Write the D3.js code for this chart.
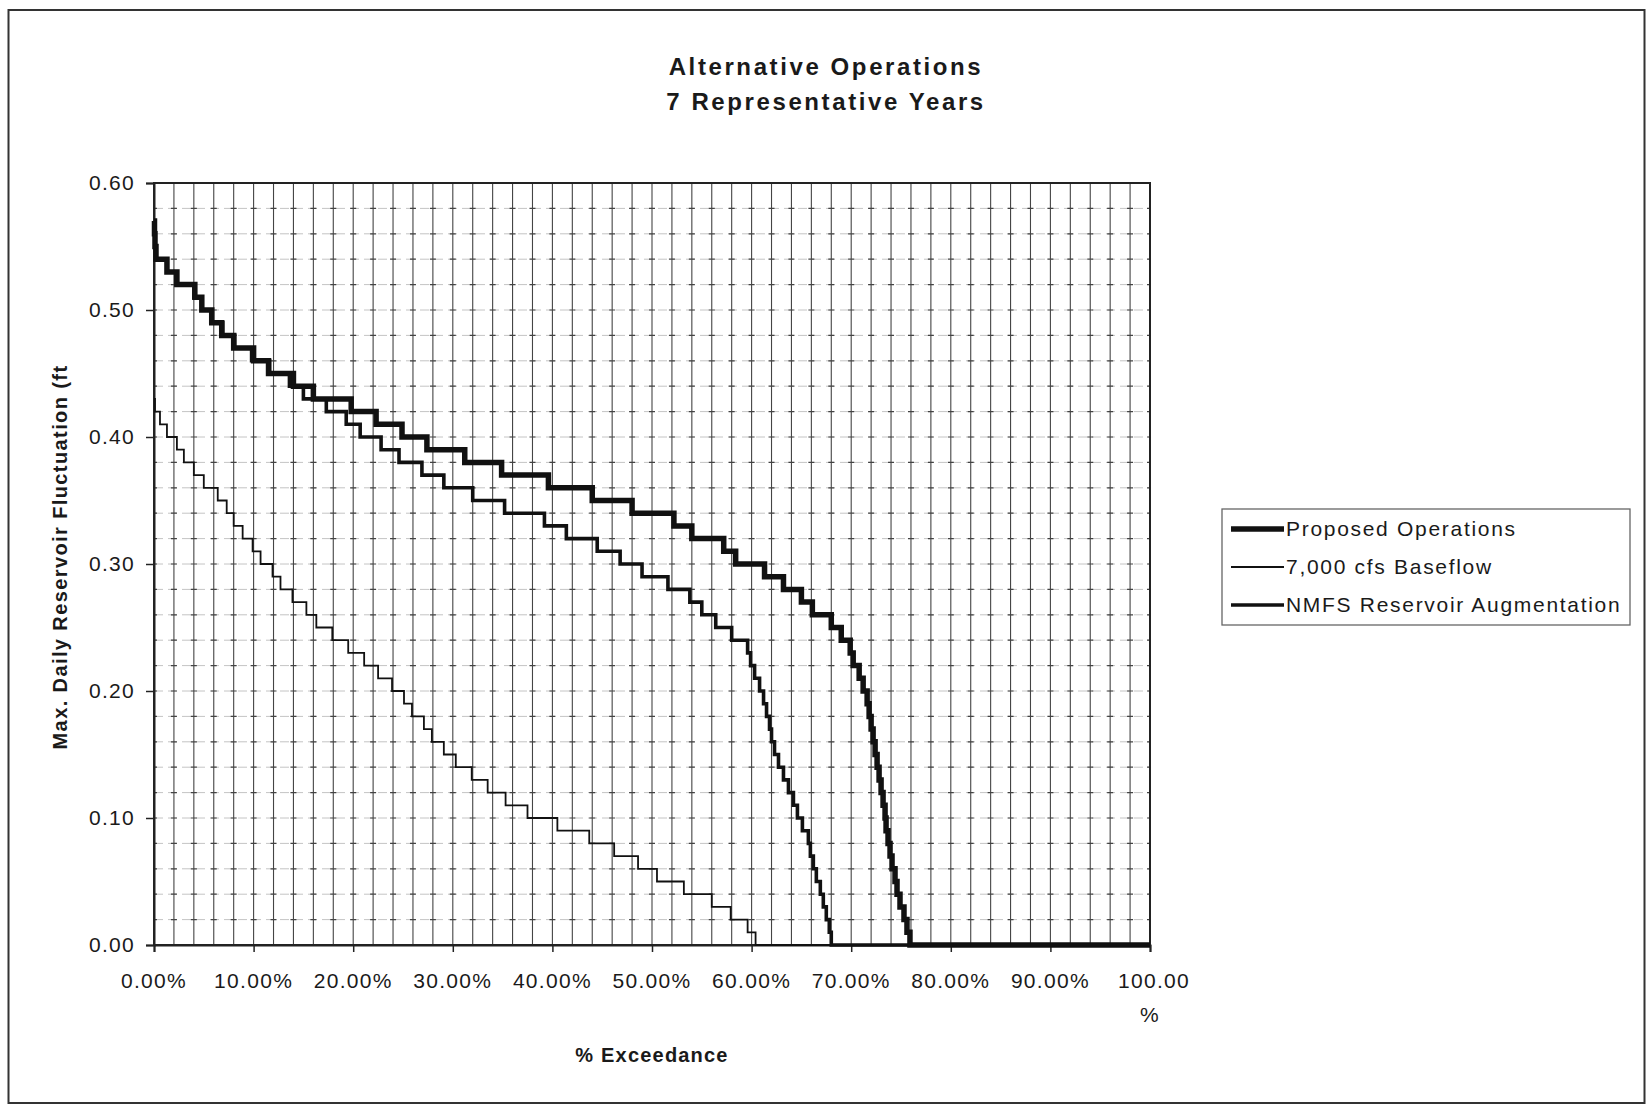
<!DOCTYPE html>
<html>
<head>
<meta charset="utf-8">
<script src="https://cdn.jsdelivr.net/npm/d3@7"></script>
<style>
body { margin: 0; background: #fff; }
text { font-family: "Liberation Sans", Arial, sans-serif; fill: #1a1a1a; }
</style>
</head>
<body>
<div id="chart"></div>
<script>
const width = 1649
const height = 1106

// [exceedance %, max daily fluctuation ft] - each point starts a step
const proposed = [
[0,0.57],[0.05,0.56],[0.1,0.55],[0.2,0.54],[1.3,0.53],[2.3,0.52],[4.1,0.51],[4.8,0.50],[5.8,0.49],
[6.8,0.48],[8.0,0.47],[10.0,0.46],[11.5,0.45],[14.0,0.44],[16.0,0.43],[19.8,0.42],[22.3,0.41],
[24.9,0.40],[27.4,0.39],[31.2,0.38],[34.9,0.37],[39.6,0.36],[44.0,0.35],[48.0,0.34],[52.2,0.33],
[54.0,0.32],[57.2,0.31],[58.4,0.30],[61.3,0.29],[63.2,0.28],[65.0,0.27],[66.1,0.26],[68.0,0.25],
[69.0,0.24],[69.9,0.23],[70.2,0.22],[70.8,0.21],[71.2,0.20],[71.6,0.19],[71.8,0.18],[72.0,0.17],
[72.2,0.16],[72.4,0.15],[72.6,0.14],[72.8,0.13],[73.0,0.12],[73.2,0.11],[73.4,0.10],[73.5,0.09],
[73.7,0.08],[73.9,0.07],[74.1,0.06],[74.4,0.05],[74.6,0.04],[74.9,0.03],[75.3,0.02],[75.6,0.01],
[75.9,0.00],[100,0.00]
]

const baseflow = [
[0,0.43],[0.1,0.42],[0.6,0.41],[1.3,0.40],[2.3,0.39],[3.0,0.38],[4.0,0.37],[5.0,0.36],[6.4,0.35],
[7.3,0.34],[8.0,0.33],[8.9,0.32],[9.9,0.31],[10.7,0.30],[11.9,0.29],[12.7,0.28],[13.9,0.27],
[15.3,0.26],[16.3,0.25],[17.9,0.24],[19.5,0.23],[21.1,0.22],[22.5,0.21],[23.9,0.20],[25.1,0.19],
[25.9,0.18],[27.1,0.17],[27.9,0.16],[29.1,0.15],[30.3,0.14],[31.9,0.13],[33.5,0.12],[35.3,0.11],
[37.5,0.10],[40.5,0.09],[43.7,0.08],[46.2,0.07],[48.6,0.06],[50.5,0.05],[53.2,0.04],[56.0,0.03],
[57.9,0.02],[59.6,0.01],[60.4,0.00],[100,0.00]
]

const nmfs = [
[0,0.57],[0.05,0.56],[0.1,0.55],[0.2,0.54],[1.3,0.53],[2.2,0.52],[4.0,0.51],[4.8,0.50],[5.7,0.49],
[6.9,0.48],[8.1,0.47],[9.8,0.46],[11.6,0.45],[13.6,0.44],[15.0,0.43],[17.3,0.42],[19.3,0.41],
[20.7,0.40],[22.8,0.39],[24.6,0.38],[26.9,0.37],[29.1,0.36],[32.0,0.35],[35.2,0.34],[39.2,0.33],
[41.4,0.32],[44.5,0.31],[46.8,0.30],[49.0,0.29],[51.6,0.28],[53.8,0.27],[55.0,0.26],[56.4,0.25],
[58.0,0.24],[59.6,0.23],[59.9,0.22],[60.3,0.21],[60.8,0.20],[61.2,0.19],[61.5,0.18],[61.8,0.17],
[62.0,0.16],[62.3,0.15],[62.7,0.14],[63.2,0.13],[63.7,0.12],[64.2,0.11],[64.6,0.10],[65.1,0.09],
[65.7,0.08],[65.9,0.07],[66.2,0.06],[66.5,0.05],[66.9,0.04],[67.2,0.03],[67.5,0.02],[67.8,0.01],
[68.0,0.00],[100,0.00]
]

const seriesNames = ["Proposed Operations","7,000 cfs Baseflow","NMFS Reservoir Augmentation"]
const xTicks = [0,10,20,30,40,50,60,70,80,90,100]
const xTickLabels = ["0.00%","10.00%","20.00%","30.00%","40.00%","50.00%","60.00%","70.00%","80.00%","90.00%","100.00%"]
const yTicks = [0,0.1,0.2,0.3,0.4,0.5,0.6]
const yTickLabels = ["0.00","0.10","0.20","0.30","0.40","0.50","0.60"]

const series = [
{ name:seriesNames[0], data:proposed, w:5.5 },
{ name:seriesNames[1], data:baseflow, w:1.8 },
{ name:seriesNames[2], data:nmfs, w:3.6 }
]

const plotL = 154, plotR = 1150, plotT = 183, plotB = 945

const x = d3.scaleLinear().domain([0,100]).range([plotL,plotR])
const y = d3.scaleLinear().domain([0,0.6]).range([plotB,plotT])

const svg = d3.select("#chart")
.append("svg")
.attr("width",width)
.attr("height",height)

svg.append("rect").attr("width",width).attr("height",height).attr("fill","#fff")

// outer frame
svg.append("rect")
.attr("x",8.5).attr("y",10)
.attr("width",1636).attr("height",1093)
.attr("fill","none").attr("stroke","#333").attr("stroke-width",2)

// horizontal grid, faint dashes plus darker crosses at the verticals
const hGrid = d3.range(0,0.601,0.02)
svg.append("g").selectAll("line")
.data(hGrid)
.enter().append("line")
.attr("x1",plotL).attr("x2",plotR)
.attr("y1",d=>y(d)).attr("y2",d=>y(d))
.attr("stroke","#c4c4c4").attr("stroke-width",1)
.attr("stroke-dasharray","9,5")

svg.append("g").selectAll("line")
.data(hGrid)
.enter().append("line")
.attr("x1",plotL).attr("x2",plotR)
.attr("y1",d=>y(d)).attr("y2",d=>y(d))
.attr("stroke","#444").attr("stroke-width",1.2)
.attr("stroke-dasharray",`6,${x(2)-x(0)-6}`)
.attr("stroke-dashoffset",3)

// vertical grid every 2%
svg.append("g").selectAll("line")
.data(d3.range(0,101,2))
.enter().append("line")
.attr("x1",d=>x(d)).attr("x2",d=>x(d))
.attr("y1",plotT).attr("y2",plotB)
.attr("stroke","#444").attr("stroke-width",1.1)

// plot box
svg.append("rect")
.attr("x",plotL).attr("y",plotT)
.attr("width",plotR-plotL).attr("height",plotB-plotT)
.attr("fill","none").attr("stroke","#222").attr("stroke-width",2)

// axes
const yAxis = d3.axisLeft(y).tickValues(yTicks).tickSize(8).tickFormat((d,i)=>yTickLabels[i])
const gy = svg.append("g").attr("transform",`translate(${plotL},0)`).call(yAxis)
gy.select(".domain").attr("stroke","#222").attr("stroke-width",2)
gy.selectAll(".tick line").attr("stroke","#222").attr("stroke-width",1.5)
gy.selectAll(".tick text")
.attr("x",-19)
.attr("dy","0.3em")
.style("font-size","21px")
.style("letter-spacing","1.3px")
.attr("fill","#222")

const xAxis = d3.axisBottom(x).tickValues(xTicks).tickSize(7).tickFormat("")
const gx = svg.append("g").attr("transform",`translate(0,${plotB})`).call(xAxis)
gx.select(".domain").attr("stroke","#222").attr("stroke-width",2)
gx.selectAll(".tick line").attr("stroke","#222").attr("stroke-width",1.5)

const xl = svg.append("g")
xTicks.forEach((t,i)=>{
const lab = xTickLabels[i]
const txt = xl.append("text")
.attr("text-anchor","middle")
.attr("fill","#222")
.style("font-size","21px")
.style("letter-spacing","1.3px")
if(t===100){
txt.append("tspan").attr("x",x(t)+4).attr("y",988).text(lab.slice(0,-1))
txt.append("tspan").attr("x",x(t)).attr("y",1022).text("%")
} else {
txt.attr("x",x(t)).attr("y",988).text(lab)
}
})

// series as step lines
const line = d3.line()
.x(d=>x(d[0]))
.y(d=>y(d[1]))
.curve(d3.curveStepAfter)

svg.append("g").selectAll("path")
.data(series)
.enter().append("path")
.attr("d",d=>line(d.data))
.attr("fill","none")
.attr("stroke","#111")
.attr("stroke-width",d=>d.w)
.attr("stroke-linejoin","miter")

// titles
svg.append("text")
.attr("x",826).attr("y",75)
.attr("text-anchor","middle")
.style("font-size","24px").style("font-weight","bold").style("letter-spacing","2.6px")
.text("Alternative Operations")

svg.append("text")
.attr("x",826).attr("y",110)
.attr("text-anchor","middle")
.style("font-size","24px").style("font-weight","bold").style("letter-spacing","2.6px")
.text("7 Representative Years")

svg.append("text")
.attr("transform","translate(67,557) rotate(-90)")
.attr("text-anchor","middle")
.style("font-size","20px").style("font-weight","bold").style("letter-spacing","1.4px")
.text("Max. Daily Reservoir Fluctuation (ft")

svg.append("text")
.attr("x",652).attr("y",1062)
.attr("text-anchor","middle")
.style("font-size","20px").style("font-weight","bold").style("letter-spacing","1.2px")
.text("% Exceedance")

// legend
const lg = svg.append("g")
lg.append("rect")
.attr("x",1222).attr("y",509)
.attr("width",408).attr("height",116)
.attr("fill","#fff").attr("stroke","#666").attr("stroke-width",1.3)

const items = lg.selectAll("g.item")
.data(series)
.enter().append("g")
.attr("class","item")
.attr("transform",(d,i)=>`translate(0,${529+i*38})`)

items.append("line")
.attr("x1",1231).attr("x2",1284)
.attr("y1",0).attr("y2",0)
.attr("stroke","#111")
.attr("stroke-width",d=>d.w)

items.append("text")
.attr("x",1286).attr("y",7)
.style("font-size","21px").style("letter-spacing","1.7px")
.text(d=>d.name)
</script>
</body>
</html>
